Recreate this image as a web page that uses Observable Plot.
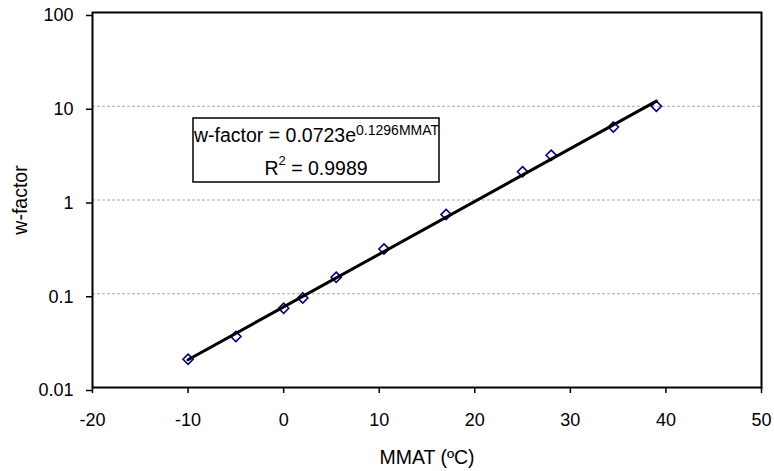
<!DOCTYPE html>
<html><head><meta charset="utf-8">
<script src="https://cdn.jsdelivr.net/npm/d3@7"></script>
<script src="https://cdn.jsdelivr.net/npm/@observablehq/plot@0.6"></script>
<style>body{margin:0;background:#fff;}</style>
</head><body><div id="chart"></div>
<script>
// ---- data ----
const mmat    = [-10, -5, 0, 2, 5.5, 10.5, 17, 25, 28, 34.5, 39];
const wFactor = [0.02, 0.035, 0.07, 0.09, 0.15, 0.3, 0.7, 2, 3, 6, 10];
const xTicks = [-20, -10, 0, 10, 20, 30, 40, 50];
const xTickLabels = ["-20", "-10", "0", "10", "20", "30", "40", "50"];
const yTicks = [0.01, 0.1, 1, 10, 100];
const yTickLabels = ["0.01", "0.1", "1", "10", "100"];
const gridTicks = [0.1, 1, 10];
// exponential trendline shown in the chart: w = a * e^(b * MMAT)
const trendA = 0.0723;
const trendB = 0.1296;
const trendRange = [-10, 39];
const eqLine1 = "w-factor = 0.0723e";
const eqExponent = "0.1296MMAT";
const eqLine2Base = "R";
const eqLine2Sup = "2";
const eqLine2Rest = " = 0.9989";
const xLabel = "MMAT (ºC)";
const yLabel = "w-factor";

const points = mmat.map((x, i) => ({x, y: wFactor[i]}));
const trend = trendRange.map(x => ({x, y: trendA * Math.exp(trendB * x)}));
const FONT = "'Liberation Sans', Arial, sans-serif";

function equationBox(index, scales, values, dims) {
  const left = dims.marginLeft + 101;
  const top = dims.marginTop + 106;
  const w = 246, h = 64;
  const g = d3.create("svg:g").attr("font-family", FONT).attr("fill", "black").attr("text-anchor", "start");
  g.append("rect").attr("x", left).attr("y", top).attr("width", w).attr("height", h)
    .attr("fill", "white").attr("stroke", "black").attr("stroke-width", 1.5);
  const t1 = g.append("text").attr("x", left + 1).attr("y", top + 24).attr("font-size", 19.5).attr("text-anchor", "start");
  t1.append("tspan").text(eqLine1);
  t1.append("tspan").attr("font-size", 14).attr("dy", -7).text(eqExponent);
  const t2 = g.append("text").attr("x", left + w / 2).attr("y", top + 57)
    .attr("font-size", 19.5).attr("text-anchor", "middle");
  t2.append("tspan").text(eqLine2Base);
  t2.append("tspan").attr("font-size", 13).attr("dy", -10).text(eqLine2Sup);
  t2.append("tspan").attr("dy", 10).text(eqLine2Rest);
  return g.node();
}

const chart = Plot.plot({
  width: 774, height: 471,
  marginLeft: 92, marginRight: 13, marginTop: 12, marginBottom: 84,
  style: {fontFamily: FONT, fontSize: "18px", color: "black", background: "white", overflow: "visible"},
  x: {domain: [-20, 50]},
  y: {type: "log", domain: [0.01, 100]},
  marks: [
    Plot.gridY(gridTicks, {stroke: "#a8a8a8", strokeOpacity: 1, strokeDasharray: "3,2"}),
    Plot.dot(points, {x: "x", y: "y", symbol: "diamond2", r: 4.6, stroke: "#000080", strokeWidth: 1.6, fill: "none"}),
    Plot.line(trend, {x: "x", y: "y", stroke: "black", strokeWidth: 3}),
    Plot.frame({stroke: "black", strokeWidth: 2}),
    Plot.axisX(xTicks, {
      tickFormat: d => xTickLabels[xTicks.indexOf(d)],
      tickSize: 6, tickPadding: 20, strokeWidth: 1.5,
      label: xLabel, labelAnchor: "center", labelArrow: "none", labelOffset: 76
    }),
    Plot.axisY(yTicks, {
      tickFormat: d => yTickLabels[yTicks.indexOf(d)],
      tickSize: 6, tickPadding: 13, strokeWidth: 1.5, dy: 3,
      label: yLabel, labelAnchor: "center", labelArrow: "none", labelOffset: 79
    }),
    equationBox
  ]
});
d3.select(chart).selectAll('[aria-label="x-axis label"], [aria-label="y-axis label"]').attr("font-size", 19.5);
document.getElementById("chart").append(chart);
</script>
</body></html>
